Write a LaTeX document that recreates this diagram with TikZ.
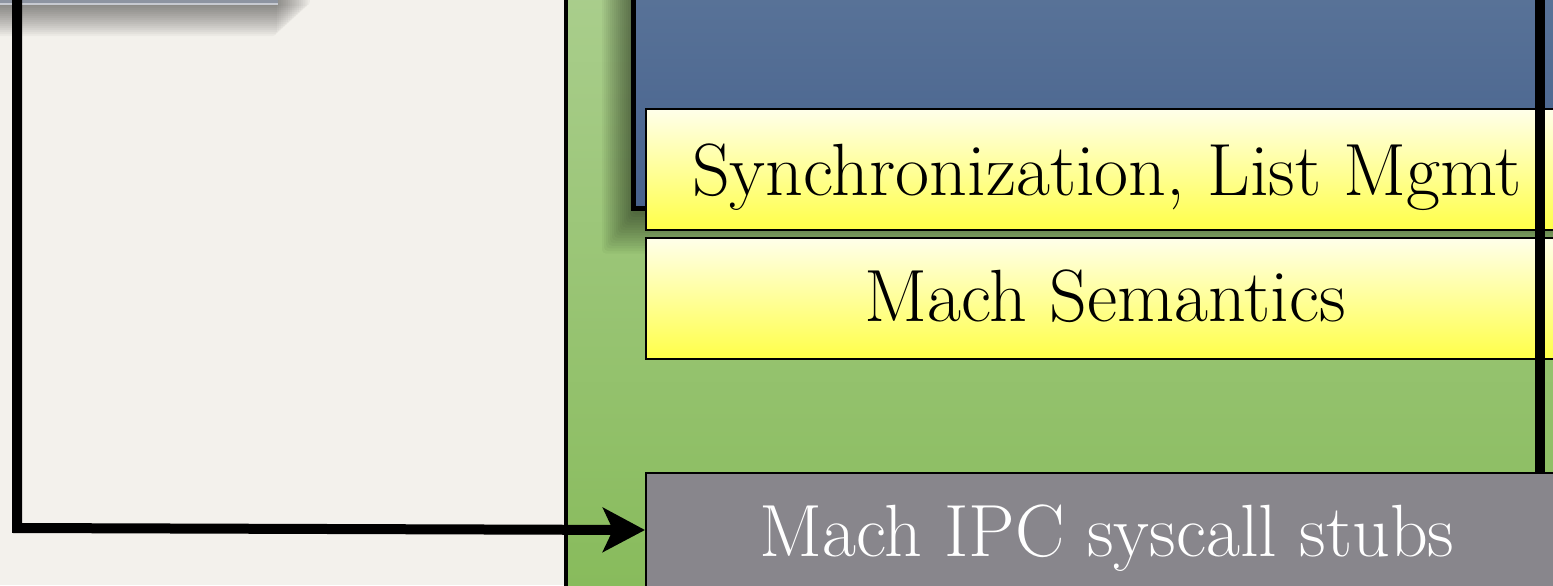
\documentclass[tikz,border=0pt]{standalone}
\usetikzlibrary{arrows.meta}
\definecolor{bg}{HTML}{F3F1EC}
\definecolor{greentop}{HTML}{AACE8D}
\definecolor{greenbot}{HTML}{86BA59}
\definecolor{bluetop}{HTML}{5C769A}
\definecolor{bluebot}{HTML}{47628D}
\definecolor{yeltop}{HTML}{FFFFEA}
\definecolor{yelbot}{HTML}{FFFF48}
\definecolor{stubgray}{HTML}{88868C}
\definecolor{topgray}{HTML}{8D94A1}
\tikzset{
  layerbox/.style={draw=black, line width=1pt, top color=yeltop, bottom color=yelbot,
    minimum width=462pt, minimum height=60.5pt, inner sep=0pt, anchor=north west},
  label35/.style={font=\fontsize{37}{42}\selectfont, anchor=base, inner sep=0pt},
  conn/.style={line width=5pt, draw=black},
}
\begin{document}
\begin{tikzpicture}[x=0.5pt,y=-0.5pt]
\useasboundingbox (0,0) rectangle (1553,585);
\fill[bg] (0,0) rectangle (1553,585);

% top-left box with soft shadow
\foreach \i in {1,...,16} {
  \fill[black, opacity=0.03, rounded corners=2pt] (-20,-20) rectangle (312-2.2*\i, 4+2*\i);
}
\node[draw=none, fill=topgray, minimum width=140pt, minimum height=12.5pt, inner sep=0pt, anchor=south west] (topbox) at (-2,5) {};
\draw[white, opacity=0.5, line width=0.8pt] (-2,4) -- (278,4);

% green region
\node[draw=black, line width=2pt, top color=greentop, bottom color=greenbot,
  minimum width=530pt, minimum height=320pt, inner sep=0pt, anchor=north west] (green) at (564,-20) {};

% blue box soft shadow
\foreach \i in {1,...,16} {
  \fill[black, opacity=0.035, rounded corners=2pt] (634-2*\i,-20) rectangle (1600, 212+2.6*\i);
}
% blue box
\node[draw=black, line width=2.5pt, top color=bluetop, bottom color=bluebot,
  minimum width=490pt, minimum height=130pt, inner sep=0pt, anchor=south west] (blue) at (631,211) {};

% yellow layers
\node[layerbox] (sync) at (645,108) {};
\node[label35] (synctext) at (1107,195) {Synchronization, List Mgmt};
\node[layerbox] (sem) at (645,237) {};
\node[label35] (semtext) at (1105,321) {Mach Semantics};

% stubs
\node[draw=black, line width=1pt, fill=stubgray, minimum width=462pt, minimum height=57pt,
  inner sep=0pt, anchor=north west] (stubs) at (645,472) {};
\node[label35, text=white] (stubstext) at (1107,556) {Mach IPC syscall stubs};

% connectors
\coordinate (ltop) at (17,-10);
\coordinate (lcorner) at (17,528);
\draw[conn, -{Stealth[length=21pt, width=22pt, inset=5pt]}] (ltop) -- (lcorner) -- (stubs.west);
\coordinate (rtop) at (1540,-10);
\coordinate (rbot) at (1540,472);
\draw[conn] (rtop) -- (rbot);
\end{tikzpicture}
\end{document}
